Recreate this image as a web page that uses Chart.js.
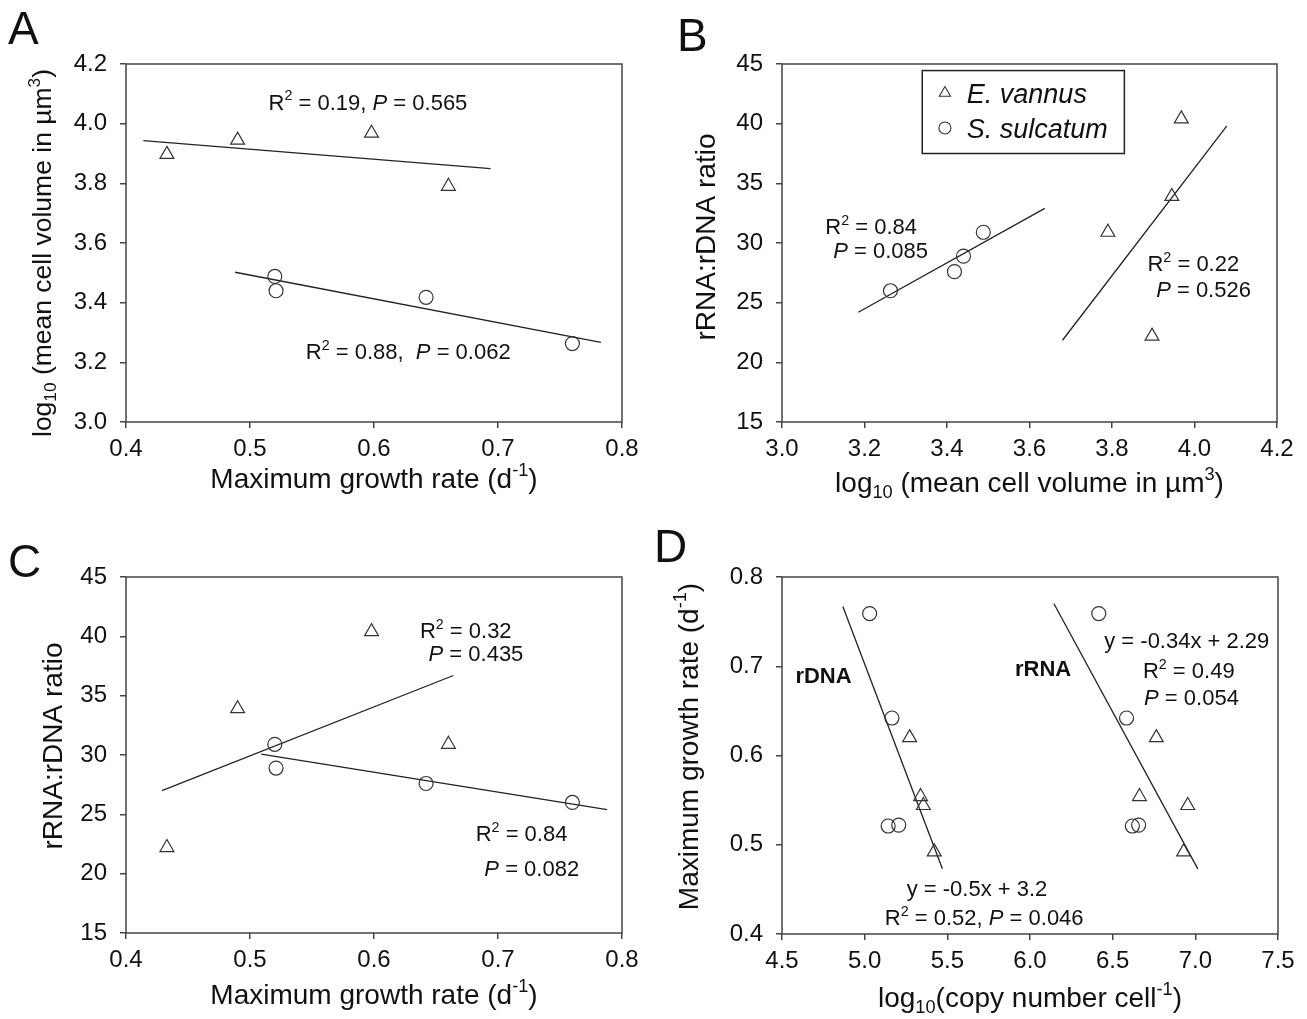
<!DOCTYPE html>
<html>
<head>
<meta charset="utf-8">
<script src="https://cdn.jsdelivr.net/npm/chart.js@4.4.1/dist/chart.umd.min.js"></script>
<style>
  body { margin: 0; background: #fff; width: 1307px; height: 1019px; position: relative; overflow: hidden; }
  canvas { position: absolute; }
</style>
</head>
<body>
<canvas id="chartA" width="653" height="510" style="left:0;top:0"></canvas>
<canvas id="chartB" width="654" height="510" style="left:653px;top:0"></canvas>
<canvas id="chartC" width="653" height="509" style="left:0;top:510px"></canvas>
<canvas id="chartD" width="654" height="509" style="left:653px;top:510px"></canvas>
<script>
// E. vannus (triangles) and S. sulcatum (circles), panels A-C
var evRate = [0.433, 0.49, 0.598, 0.66]
var evVolume = [3.897, 3.945, 3.968, 3.79]
var evRatio = [22.2, 33.9, 40.4, 30.9]
var ssRate = [0.52, 0.521, 0.642, 0.76]
var ssVolume = [3.488, 3.44, 3.418, 3.263]
var ssRatio = [30.9, 28.9, 27.6, 26.0]

// panel D: growth rate vs copy numbers
var dEvRate = [0.62, 0.554, 0.544, 0.492]
var dSsRate = [0.759, 0.642, 0.521, 0.522]
var rdnaEv = [5.272, 5.338, 5.355, 5.421]
var rdnaSs = [5.03, 5.165, 5.142, 5.206]
var rrnaEv = [6.764, 6.662, 6.954, 6.929]
var rrnaSs = [6.416, 6.584, 6.619, 6.657]

// regression lines (end points)
var lineAev = {x: [0.414, 0.694], y: [3.943, 3.849]}
var lineAss = {x: [0.488, 0.783], y: [3.502, 3.267]}
var lineBss = {x: [3.185, 3.637], y: [24.2, 32.9]}
var lineBev = {x: [3.68, 4.078], y: [21.85, 39.8]}
var lineCev = {x: [0.429, 0.664], y: [27.0, 36.7]}
var lineCss = {x: [0.509, 0.788], y: [30.07, 25.4]}
var lineDrdna = {x: [4.868, 5.47], y: [0.767, 0.473]}
var lineDrrna = {x: [6.145, 7.015], y: [0.77, 0.473]}

// tick labels
var rateTicks = [0.4, 0.5, 0.6, 0.7, 0.8]
var volumeTicks = [3.0, 3.2, 3.4, 3.6, 3.8, 4.0, 4.2]
var ratioTicks = [15, 20, 25, 30, 35, 40, 45]
var copyTicks = [4.5, 5.0, 5.5, 6.0, 6.5, 7.0, 7.5]
var dRateTicks = [0.4, 0.5, 0.6, 0.7, 0.8]

var FONT = '"Liberation Sans", Arial, Helvetica, sans-serif'
var INK = '#333'

function pts(xs, ys) {
  return xs.map(function(v, i){ return {x: v, y: ys[i]} })
}

function marks(xs, ys, style) {
  return {
    data: pts(xs, ys),
    pointStyle: style,
    pointRadius: style == 'triangle' ? 8 : 7,
    pointBackgroundColor: 'rgba(255,255,255,0)',
    pointBorderColor: INK,
    pointBorderWidth: 1.2,
    showLine: false
  }
}

function fit(line) {
  return {
    data: pts(line.x, line.y),
    showLine: true,
    borderColor: '#222',
    borderWidth: 1.3,
    pointRadius: 0
  }
}

function fontFor(p, size) {
  var s = (p[1] == 'sup' || p[1] == 'sub') ? size * 0.65 : size
  var st = ''
  if (p[1] == 'i') st = 'italic '
  if (p[1] == 'b') st = 'bold '
  return st + s + 'px ' + FONT
}

function drawRich(ctx, parts, x, y, size, align) {
  var w = 0
  parts.forEach(function(p){ ctx.font = fontFor(p, size); w += ctx.measureText(p[0]).width })
  var cx = align == 'center' ? x - w / 2 : x
  ctx.textAlign = 'left'
  ctx.textBaseline = 'alphabetic'
  parts.forEach(function(p){
    ctx.font = fontFor(p, size)
    var dy = p[1] == 'sup' ? -size * 0.42 : (p[1] == 'sub' ? size * 0.2 : 0)
    ctx.fillText(p[0], cx, y + dy)
    cx += ctx.measureText(p[0]).width
  })
}

function drawMarker(ctx, style, x, y, r) {
  ctx.beginPath()
  if (style == 'triangle') {
    ctx.moveTo(x, y - r)
    ctx.lineTo(x + r * 0.866, y + r / 2)
    ctx.lineTo(x - r * 0.866, y + r / 2)
    ctx.closePath()
  } else {
    ctx.arc(x, y, r, 0, Math.PI * 2)
  }
  ctx.stroke()
}

// frame, titles, notes, legend
var deco = {
  id: 'deco',
  afterDraw: function(chart, args, o) {
    var ctx = chart.ctx, a = chart.chartArea
    var sx = chart.scales.x, sy = chart.scales.y
    ctx.save()
    ctx.strokeStyle = '#444'
    ctx.lineWidth = 1.5
    ctx.strokeRect(a.left, a.top, a.right - a.left, a.bottom - a.top)
    ctx.fillStyle = '#111'

    ctx.font = '46px ' + FONT
    ctx.textBaseline = 'alphabetic'
    ctx.textAlign = 'left'
    ctx.fillText(o.letter[0], o.letter[1], o.letter[2])

    drawRich(ctx, o.xTitle, (a.left + a.right) / 2, a.bottom + o.xTitleOff, 28, 'center')
    ctx.save()
    ctx.translate(a.left - o.yTitleOff, (a.top + a.bottom) / 2 + (o.yShift || 0))
    ctx.rotate(-Math.PI / 2)
    drawRich(ctx, o.yTitle, 0, 0, o.yTitleSize || 28, 'center')
    ctx.restore()

    o.notes.forEach(function(n){
      var size = n.size || 22
      drawRich(ctx, n.parts, sx.getPixelForValue(n.x), sy.getPixelForValue(n.y) + size * 0.36, size, 'left')
    })

    if (o.legend) {
      var L = o.legend
      var x1 = sx.getPixelForValue(L.box[0]), y1 = sy.getPixelForValue(L.box[1])
      var x2 = sx.getPixelForValue(L.box[2]), y2 = sy.getPixelForValue(L.box[3])
      ctx.strokeStyle = '#222'
      ctx.lineWidth = 1.5
      ctx.strokeRect(x1, y1, x2 - x1, y2 - y1)
      ctx.strokeStyle = INK
      ctx.lineWidth = 1.1
      L.items.forEach(function(it){
        var py = sy.getPixelForValue(it.y)
        drawMarker(ctx, it.style, sx.getPixelForValue(L.markX), py, it.style == 'triangle' ? 6.5 : 6)
        drawRich(ctx, [[it.label, 'i']], sx.getPixelForValue(L.textX), py + 27 * 0.36, 27, 'left')
      })
    }
    ctx.restore()
  }
}

function axis(min, max, ticks, dec, pad, sizeFn) {
  return {
    type: 'linear',
    min: min,
    max: max,
    afterBuildTicks: function(s){ s.ticks = ticks.map(function(v){ return {value: v} }) },
    afterFit: sizeFn,
    border: {display: false},
    grid: {drawOnChartArea: false, drawTicks: true, tickLength: 6, color: '#444', lineWidth: 1.5},
    ticks: {
      color: '#111',
      padding: pad,
      maxRotation: 0,
      autoSkip: false,
      font: {family: FONT, size: 24},
      callback: function(v){ return Number(v).toFixed(dec) }
    }
  }
}

function makeChart(id, p) {
  var cv = document.getElementById(id)
  var W = cv.width, H = cv.height
  return new Chart(cv, {
    type: 'scatter',
    data: {datasets: p.datasets},
    options: {
      responsive: false,
      animation: false,
      events: [],
      layout: {padding: {top: p.area[1], right: W - p.area[2], left: 0, bottom: 0}},
      plugins: {legend: {display: false}, tooltip: {enabled: false}, deco: p.deco},
      scales: {
        x: axis(p.x[0], p.x[1], p.x[2], p.x[3], 7, function(s){ s.height = H - p.area[3] }),
        y: axis(p.y[0], p.y[1], p.y[2], p.y[3], 13, function(s){ s.width = p.area[0] })
      }
    },
    plugins: [deco]
  })
}

var R2 = function(v){ return [['R'], ['2', 'sup'], [' = ' + v]] }
var Pv = function(v){ return [['P', 'i'], [' = ' + v]] }
var rateTitle = [['Maximum growth rate (d'], ['-1', 'sup'], [')']]
var volumeTitle = [['log'], ['10', 'sub'], [' (mean cell volume in µm'], ['3', 'sup'], [')']]
var ratioTitle = [['rRNA:rDNA ratio']]

makeChart('chartA', {
  area: [126, 64, 622, 422],
  x: [0.4, 0.8, rateTicks, 1],
  y: [3.0, 4.2, volumeTicks, 1],
  datasets: [
    marks(evRate, evVolume, 'triangle'),
    marks(ssRate, ssVolume, 'circle'),
    fit(lineAev), fit(lineAss)
  ],
  deco: {
    letter: ['A', 8, 44],
    xTitle: rateTitle, xTitleOff: 66,
    yTitle: volumeTitle, yTitleOff: 75, yShift: 10, yTitleSize: 26.5,
    notes: [
      {x: 0.515, y: 4.074, parts: R2('0.19, ').concat(Pv('0.565'))},
      {x: 0.545, y: 3.237, parts: R2('0.88,  ').concat(Pv('0.062'))}
    ]
  }
})

makeChart('chartB', {
  area: [129, 64, 624, 422],
  x: [3.0, 4.2, volumeTicks, 1],
  y: [15, 45, ratioTicks, 0],
  datasets: [
    marks(evVolume, evRatio, 'triangle'),
    marks(ssVolume, ssRatio, 'circle'),
    fit(lineBss), fit(lineBev)
  ],
  deco: {
    letter: ['B', 24, 51],
    xTitle: volumeTitle, xTitleOff: 70,
    yTitle: ratioTitle, yTitleOff: 67, yShift: -6,
    notes: [
      {x: 3.105, y: 31.4, parts: R2('0.84')},
      {x: 3.124, y: 29.4, parts: Pv('0.085')},
      {x: 3.886, y: 28.3, parts: R2('0.22')},
      {x: 3.907, y: 26.1, parts: Pv('0.526')}
    ],
    legend: {
      box: [3.34, 44.45, 3.83, 37.5],
      markX: 3.395, textX: 3.448,
      items: [
        {style: 'triangle', label: 'E. vannus', y: 42.57},
        {style: 'circle', label: 'S. sulcatum', y: 39.64}
      ]
    }
  }
})

makeChart('chartC', {
  area: [126, 67, 622, 423],
  x: [0.4, 0.8, rateTicks, 1],
  y: [15, 45, ratioTicks, 0],
  datasets: [
    marks(evRate, evRatio, 'triangle'),
    marks(ssRate, ssRatio, 'circle'),
    fit(lineCev), fit(lineCss)
  ],
  deco: {
    letter: ['C', 8, 67],
    xTitle: rateTitle, xTitleOff: 71,
    yTitle: ratioTitle, yTitleOff: 64, yShift: -9,
    notes: [
      {x: 0.637, y: 40.5, parts: R2('0.32')},
      {x: 0.644, y: 38.6, parts: Pv('0.435')},
      {x: 0.682, y: 23.4, parts: R2('0.84')},
      {x: 0.689, y: 20.45, parts: Pv('0.082')}
    ]
  }
})

makeChart('chartD', {
  area: [129, 67, 625, 424],
  x: [4.5, 7.5, copyTicks, 1],
  y: [0.4, 0.8, dRateTicks, 1],
  datasets: [
    marks(rdnaEv, dEvRate, 'triangle'),
    marks(rdnaSs, dSsRate, 'circle'),
    marks(rrnaEv, dEvRate, 'triangle'),
    marks(rrnaSs, dSsRate, 'circle'),
    fit(lineDrdna), fit(lineDrrna)
  ],
  deco: {
    letter: ['D', 1, 52],
    xTitle: [['log'], ['10', 'sub'], ['(copy number cell'], ['-1', 'sup'], [')']], xTitleOff: 73,
    yTitle: rateTitle, yTitleOff: 84, yShift: -9,
    notes: [
      {x: 4.581, y: 0.69, parts: [['rDNA', 'b']]},
      {x: 5.909, y: 0.698, parts: [['rRNA', 'b']]},
      {x: 6.449, y: 0.729, parts: [['y = -0.34x + 2.29']]},
      {x: 6.683, y: 0.696, parts: R2('0.49')},
      {x: 6.69, y: 0.666, parts: Pv('0.054')},
      {x: 5.254, y: 0.452, parts: [['y = -0.5x + 3.2']]},
      {x: 5.122, y: 0.4186, parts: R2('0.52, ').concat(Pv('0.046'))}
    ]
  }
})
</script>
</body>
</html>
